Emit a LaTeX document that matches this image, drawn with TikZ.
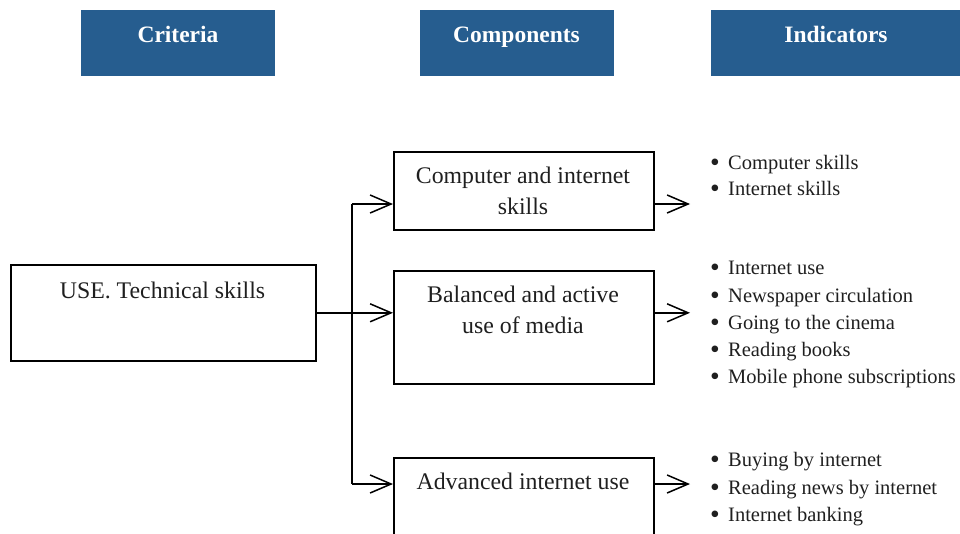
\documentclass[tikz,border=0pt]{standalone}
\usepackage{fontspec}
\setmainfont{Liberation Serif}
\usetikzlibrary{arrows.meta}
\definecolor{headblue}{RGB}{38,93,143}
\begin{document}
\begin{tikzpicture}[x=1pt,y=-1pt,
  head/.style={fill=headblue, minimum height=66pt, inner sep=0pt, anchor=north west},
  headtext/.style={text=white, inner sep=0pt, anchor=base, font=\fontsize{23.5}{28}\selectfont\bfseries},
  box/.style={draw=black, line width=1.6pt, inner sep=0pt, anchor=north west},
  boxtext/.style={inner sep=0pt, font=\fontsize{23.8}{31}\selectfont, align=center, text=black!88},
  item/.style={anchor=base west, inner sep=0pt, font=\fontsize{20.5}{24}\selectfont, text=black!88},
  arr/.style={line width=1.5pt, -{Straight Barb[length=21pt,width=18pt,line width=1.5pt]}},
  link/.style={line width=1.5pt}
]
\clip (0,0) rectangle (960,533);

% column headers
\node[head, minimum width=194pt] (hcrit) at (81,10) {};
\node[head, minimum width=194pt] (hcomp) at (420,10) {};
\node[head, minimum width=252pt] (hind)  at (711,10) {};
\node[headtext] (tcrit) at (178,42) {Criteria};
\node[headtext] (tcomp) at (516.5,42) {Components};
\node[headtext] (tind)  at (836,42) {Indicators};

% criterion
\node[box, minimum width=305pt, minimum height=96pt] (use) at (10,264) {};
\node[boxtext] (tuse) at (162.5,290) {USE. Technical skills};

% components
\node[box, minimum width=260pt, minimum height=78pt]  (comp1) at (393,151) {};
\node[boxtext] (tcomp1) at (523,190.5) {Computer and internet\\skills};
\node[box, minimum width=260pt, minimum height=113pt] (comp2) at (393,270) {};
\node[boxtext] (tcomp2) at (523,309.5) {Balanced and active\\use of media};
\node[box, minimum width=260pt, minimum height=110pt] (comp3) at (393,457) {};
\node[boxtext] (tcomp3) at (523,481) {Advanced internet use};

% connectors
\coordinate (split) at (352,312);
\coordinate (row1) at (0,204);
\coordinate (row3) at (0,484);
\coordinate (tip) at (690,0);
\draw[link] (split |- row1) -- (split |- row3);
\draw[arr] (use.east) -- (comp2.west |- use.east);
\draw[arr] (split |- row1) -- (comp1.west |- row1);
\draw[arr] (split |- row3) -- (comp3.west |- row3);
\draw[arr] (comp1.east |- row1) -- (tip |- row1);
\draw[arr] (comp2.east |- use.east) -- (tip |- use.east);
\draw[arr] (comp3.east |- row3) -- (tip |- row3);

% indicators
\newcommand{\bul}{\makebox[18pt][l]{\raisebox{-2.6pt}{\scalebox{1.35}{\textbullet}}}}
\node[item] (i11) at (710,169) {\bul Computer skills};
\node[item] (i12) at (710,195) {\bul Internet skills};
\node[item] (i21) at (710,274) {\bul Internet use};
\node[item] (i22) at (710,302) {\bul Newspaper circulation};
\node[item] (i23) at (710,329) {\bul Going to the cinema};
\node[item] (i24) at (710,356) {\bul Reading books};
\node[item] (i25) at (710,383) {\bul Mobile phone subscriptions};
\node[item] (i31) at (710,466) {\bul Buying by internet};
\node[item] (i32) at (710,494) {\bul Reading news by internet};
\node[item] (i33) at (710,521) {\bul Internet banking};
\end{tikzpicture}
\end{document}
